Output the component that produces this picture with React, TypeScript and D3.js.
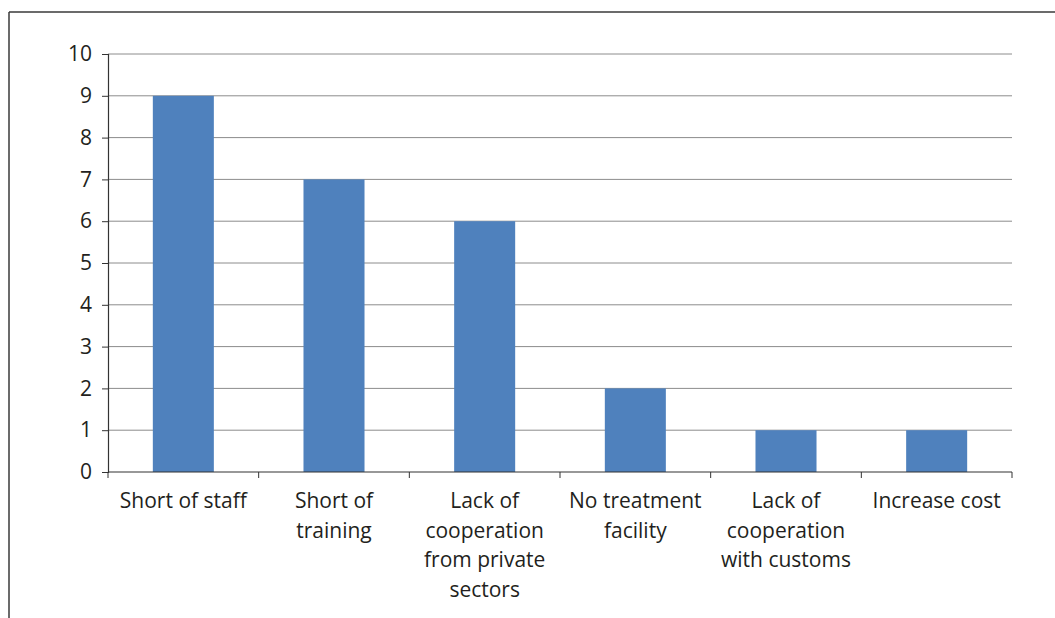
import React, { useEffect, useRef } from 'react';
import * as d3 from 'd3';

const categories = [
  'Short of staff',
  'Short of\ntraining',
  'Lack of\ncooperation\nfrom private\nsectors',
  'No treatment\nfacility',
  'Lack of\ncooperation\nwith customs',
  'Increase cost',
];
const values = [9, 7, 6, 2, 1, 1];
const yTicks = [0, 1, 2, 3, 4, 5, 6, 7, 8, 9, 10];

const W = 1055;
const H = 618;
const FONT = '"Open Sans", "Noto Sans", sans-serif';
const FS = 21;

const App = () => {
  const ref = useRef<SVGSVGElement>(null);

  useEffect(() => {
    const svg = d3.select(ref.current);
    svg.selectAll('*').remove();

    const left = 108, right = 1012, top = 54, bottom = 472;

    const x = d3.scaleBand<string>().domain(categories).range([left, right]).paddingInner(0.595).paddingOuter(0.2975);
    const xOuter = d3.scaleBand<string>().domain(categories).range([left, right]);
    const y = d3.scaleLinear().domain([0, 10]).range([bottom, top]);

    // frame (top and left edges of the figure box)
    svg.append('line').attr('x1', 9).attr('x2', W).attr('y1', 12).attr('y2', 12)
      .attr('stroke', '#3a3a3a').attr('stroke-width', 1.5);
    svg.append('line').attr('x1', 9).attr('x2', 9).attr('y1', 12).attr('y2', H)
      .attr('stroke', '#3a3a3a').attr('stroke-width', 1.5);

    // gridlines
    svg.append('g').selectAll('line').data(yTicks.filter(d => d > 0)).join('line')
      .attr('x1', left).attr('x2', right)
      .attr('y1', d => y(d)).attr('y2', d => y(d))
      .attr('stroke', '#8c8c8c').attr('stroke-width', 1);

    // bars
    svg.append('g').selectAll('rect').data(values).join('rect')
      .attr('x', (_, i) => x(categories[i])!)
      .attr('width', x.bandwidth())
      .attr('y', d => y(d))
      .attr('height', d => bottom - y(d))
      .attr('fill', '#4f81bd');

    // y axis
    const yAxis = d3.axisLeft(y).tickValues(yTicks).tickSize(6).tickPadding(10).tickFormat(d3.format('d'));
    const gy = svg.append('g').attr('transform', `translate(${left},0)`).call(yAxis);
    gy.attr('font-size', null).attr('font-family', null);
    gy.select('.domain').attr('stroke', '#333').attr('stroke-width', 1.2);
    gy.selectAll('.tick line').attr('stroke', '#333');
    gy.selectAll('.tick text').attr('font-family', FONT).attr('font-size', FS).attr('fill', '#231f20');

    // x axis line + ticks at band boundaries
    svg.append('line').attr('x1', left).attr('x2', right).attr('y1', bottom).attr('y2', bottom)
      .attr('stroke', '#333').attr('stroke-width', 1.2);
    const bounds = [...categories.map(c => xOuter(c)!), right];
    svg.append('g').selectAll('line').data(bounds).join('line')
      .attr('x1', d => d).attr('x2', d => d).attr('y1', bottom).attr('y2', bottom + 6)
      .attr('stroke', '#333');

    // x labels
    const lbl = svg.append('g').attr('font-family', FONT).attr('font-size', FS).attr('fill', '#231f20')
      .attr('text-anchor', 'middle');
    categories.forEach(c => {
      const cx = xOuter(c)! + xOuter.bandwidth() / 2;
      c.split('\n').forEach((line, j) => {
        lbl.append('text').attr('x', cx).attr('y', 508 + j * 29.5).text(line);
      });
    });
  }, []);

  return <svg ref={ref} width={W} height={H} style={{ position: 'absolute', left: 0, top: 0, background: '#fff' }} />;
};

export default App;
